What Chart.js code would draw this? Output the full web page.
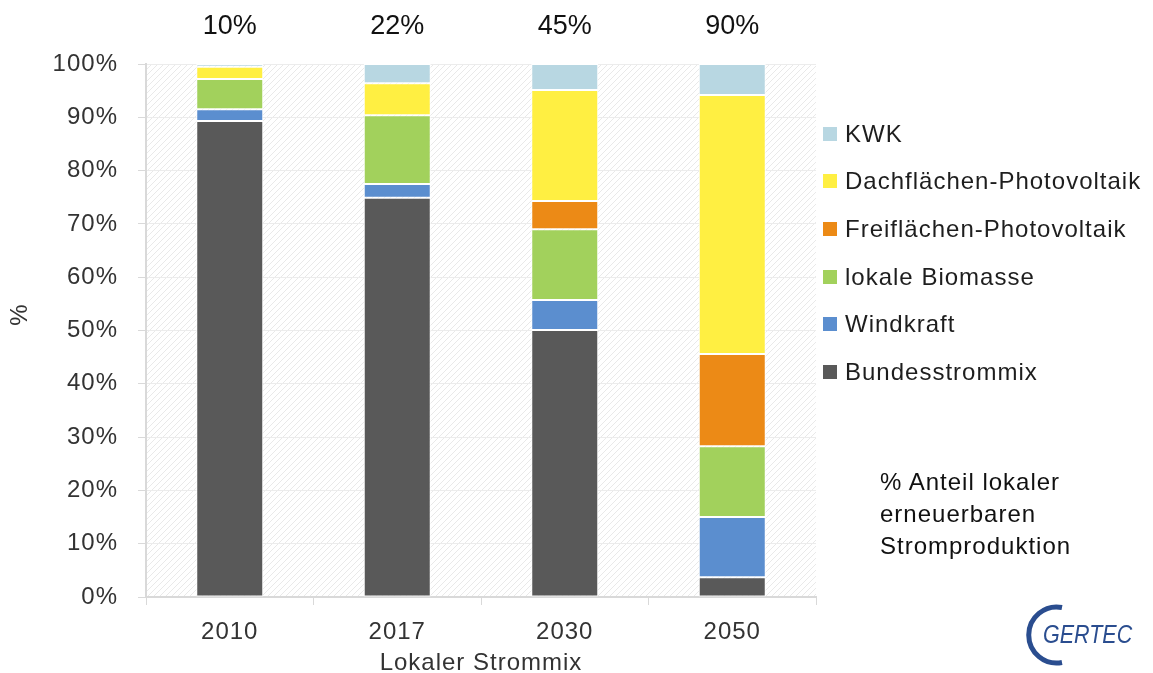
<!DOCTYPE html>
<html>
<head>
<meta charset="utf-8">
<script src="https://cdn.jsdelivr.net/npm/chart.js@4.4.1/dist/chart.umd.min.js"></script>
<style>
  body { margin: 0; background: #fff; font-family: "Liberation Sans", Arial, sans-serif; }
  #wrap { position: relative; width: 1153px; height: 673px; overflow: hidden; }
  #legend { position: absolute; left: 823px; top: 110px; }
  .item { height: 47.6px; display: flex; align-items: center; font-size: 24px; letter-spacing: 1px; color: #1e1e1e; white-space: nowrap; }
  .item span.box { width: 14px; height: 14px; margin-right: 8px; display: inline-block; }
  #note { position: absolute; left: 880px; top: 466px; font-size: 24px; line-height: 32px; letter-spacing: 1px; color: #111; }
  #logo { position: absolute; left: 1024px; top: 604px; width: 125px; height: 64px; }
  #logo .txt { position: absolute; left: 19px; top: 18px; line-height: 1; font-family: "Liberation Sans Narrow", "Liberation Sans", sans-serif; font-style: italic; font-size: 25px; color: #2a4d8f; transform: scaleX(0.86); transform-origin: left top; }
</style>
</head>
<body>
<div id="wrap">
  <canvas id="chart" width="1153" height="673"></canvas>
  <div id="legend"></div>
  <div id="note">% Anteil lokaler<br>erneuerbaren<br>Stromproduktion</div>
  <div id="logo">
    <svg width="60" height="64" style="position:absolute;left:0;top:0">
      <path d="M 38 3.5 A 28 28 0 1 0 38 58.5" fill="none" stroke="#2a4d8f" stroke-width="5"/>
    </svg>
    <div class="txt">GERTEC</div>
  </div>
</div>
<script>
const years = ['2010', '2017', '2030', '2050']
const shareLabels = ['10%', '22%', '45%', '90%']

const bundesstrommix = [89.3, 74.9, 50.1, 3.7]
const windkraft = [2.2, 2.6, 5.6, 11.3]
const biomasse = [5.7, 12.9, 13.3, 13.3]
const freiflaechenPV = [null, null, 5.3, 17.3]
const dachflaechenPV = [2.3, 6.0, 20.8, 48.6]
const kwk = [0.5, 3.6, 4.9, 5.8]

const yTicks = [0, 10, 20, 30, 40, 50, 60, 70, 80, 90, 100]

const fontFamily = '"Liberation Sans", Arial, sans-serif'

function hatch() {
  const c = document.createElement('canvas')
  c.width = 6
  c.height = 6
  const g = c.getContext('2d')
  g.fillStyle = '#ffffff'
  g.fillRect(0, 0, 6, 6)
  g.strokeStyle = '#e9e9e9'
  g.lineWidth = 1
  g.beginPath()
  g.moveTo(-1, 7); g.lineTo(7, -1)
  g.moveTo(-4, 4); g.lineTo(4, -4)
  g.moveTo(2, 10); g.lineTo(10, 2)
  g.stroke()
  return c
}

const plotBackground = {
  id: 'plotBackground',
  beforeDraw(chart) {
    const { ctx, chartArea: a } = chart
    ctx.letterSpacing = '1px'
    ctx.save()
    ctx.fillStyle = ctx.createPattern(hatch(), 'repeat')
    ctx.fillRect(a.left, a.top, a.right - a.left, a.bottom - a.top)
    ctx.restore()
  }
}

const extraText = {
  id: 'extraText',
  afterDraw(chart) {
    const { ctx } = chart
    const x = chart.scales.x
    ctx.save()
    ctx.letterSpacing = '0px'
    ctx.font = '27px ' + fontFamily
    ctx.fillStyle = '#111'
    ctx.textAlign = 'center'
    ctx.textBaseline = 'middle'
    shareLabels.forEach((t, i) => ctx.fillText(t, x.getPixelForValue(i), 27))
    // y axis title sits above the middle in the original
    ctx.font = '24px ' + fontFamily
    ctx.fillStyle = '#333'
    ctx.translate(20, 315)
    ctx.rotate(-Math.PI / 2)
    ctx.fillText('%', 0, 0)
    ctx.restore()
  }
}

const datasets = [
  { label: 'Bundesstrommix', data: bundesstrommix, backgroundColor: '#595959' },
  { label: 'Windkraft', data: windkraft, backgroundColor: '#5b8ecf' },
  { label: 'lokale Biomasse', data: biomasse, backgroundColor: '#a2d15c' },
  { label: 'Freiflächen-Photovoltaik', data: freiflaechenPV, backgroundColor: '#ec8a16' },
  { label: 'Dachflächen-Photovoltaik', data: dachflaechenPV, backgroundColor: '#ffef42' },
  { label: 'KWK', data: kwk, backgroundColor: '#b8d7e2' }
].map(d => Object.assign(d, {
  borderColor: '#ffffff',
  borderWidth: 1,
  borderSkipped: false,
  barPercentage: 0.4,
  categoryPercentage: 1
}))

const tickFont = { family: fontFamily, size: 24 }

const chart = new Chart(document.getElementById('chart'), {
  type: 'bar',
  data: { labels: years, datasets: datasets },
  plugins: [plotBackground, extraText],
  options: {
    responsive: false,
    animation: false,
    layout: { padding: { top: 64, right: 337, left: 0, bottom: 0 } },
    plugins: {
      legend: { display: false },
      tooltip: { enabled: false }
    },
    scales: {
      x: {
        stacked: true,
        afterFit: s => { s.height = 76 },
        grid: { display: true, drawOnChartArea: false, offset: true, tickLength: 8, color: '#d9d9d9' },
        border: { color: '#d9d9d9', width: 2 },
        ticks: { color: '#333', font: tickFont, padding: 13 },
        title: { display: true, text: 'Lokaler Strommix', color: '#333', font: tickFont, padding: { top: 0, bottom: -5 } }
      },
      y: {
        stacked: true,
        min: 0,
        max: 100,
        afterFit: s => { s.width = 146 },
        afterBuildTicks: s => { s.ticks = yTicks.map(v => ({ value: v })) },
        grid: { color: '#ececec', tickColor: '#d9d9d9', tickLength: 8 },
        border: { color: '#d9d9d9', width: 2 },
        ticks: { color: '#333', font: tickFont, padding: 20, callback: v => v + '%' }
      }
    }
  }
})

const legend = document.getElementById('legend')
chart.data.datasets.slice().reverse().forEach(d => {
  const row = document.createElement('div')
  row.className = 'item'
  row.innerHTML = '<span class="box" style="background:' + d.backgroundColor + '"></span>' + d.label
  legend.appendChild(row)
})
</script>
</body>
</html>
